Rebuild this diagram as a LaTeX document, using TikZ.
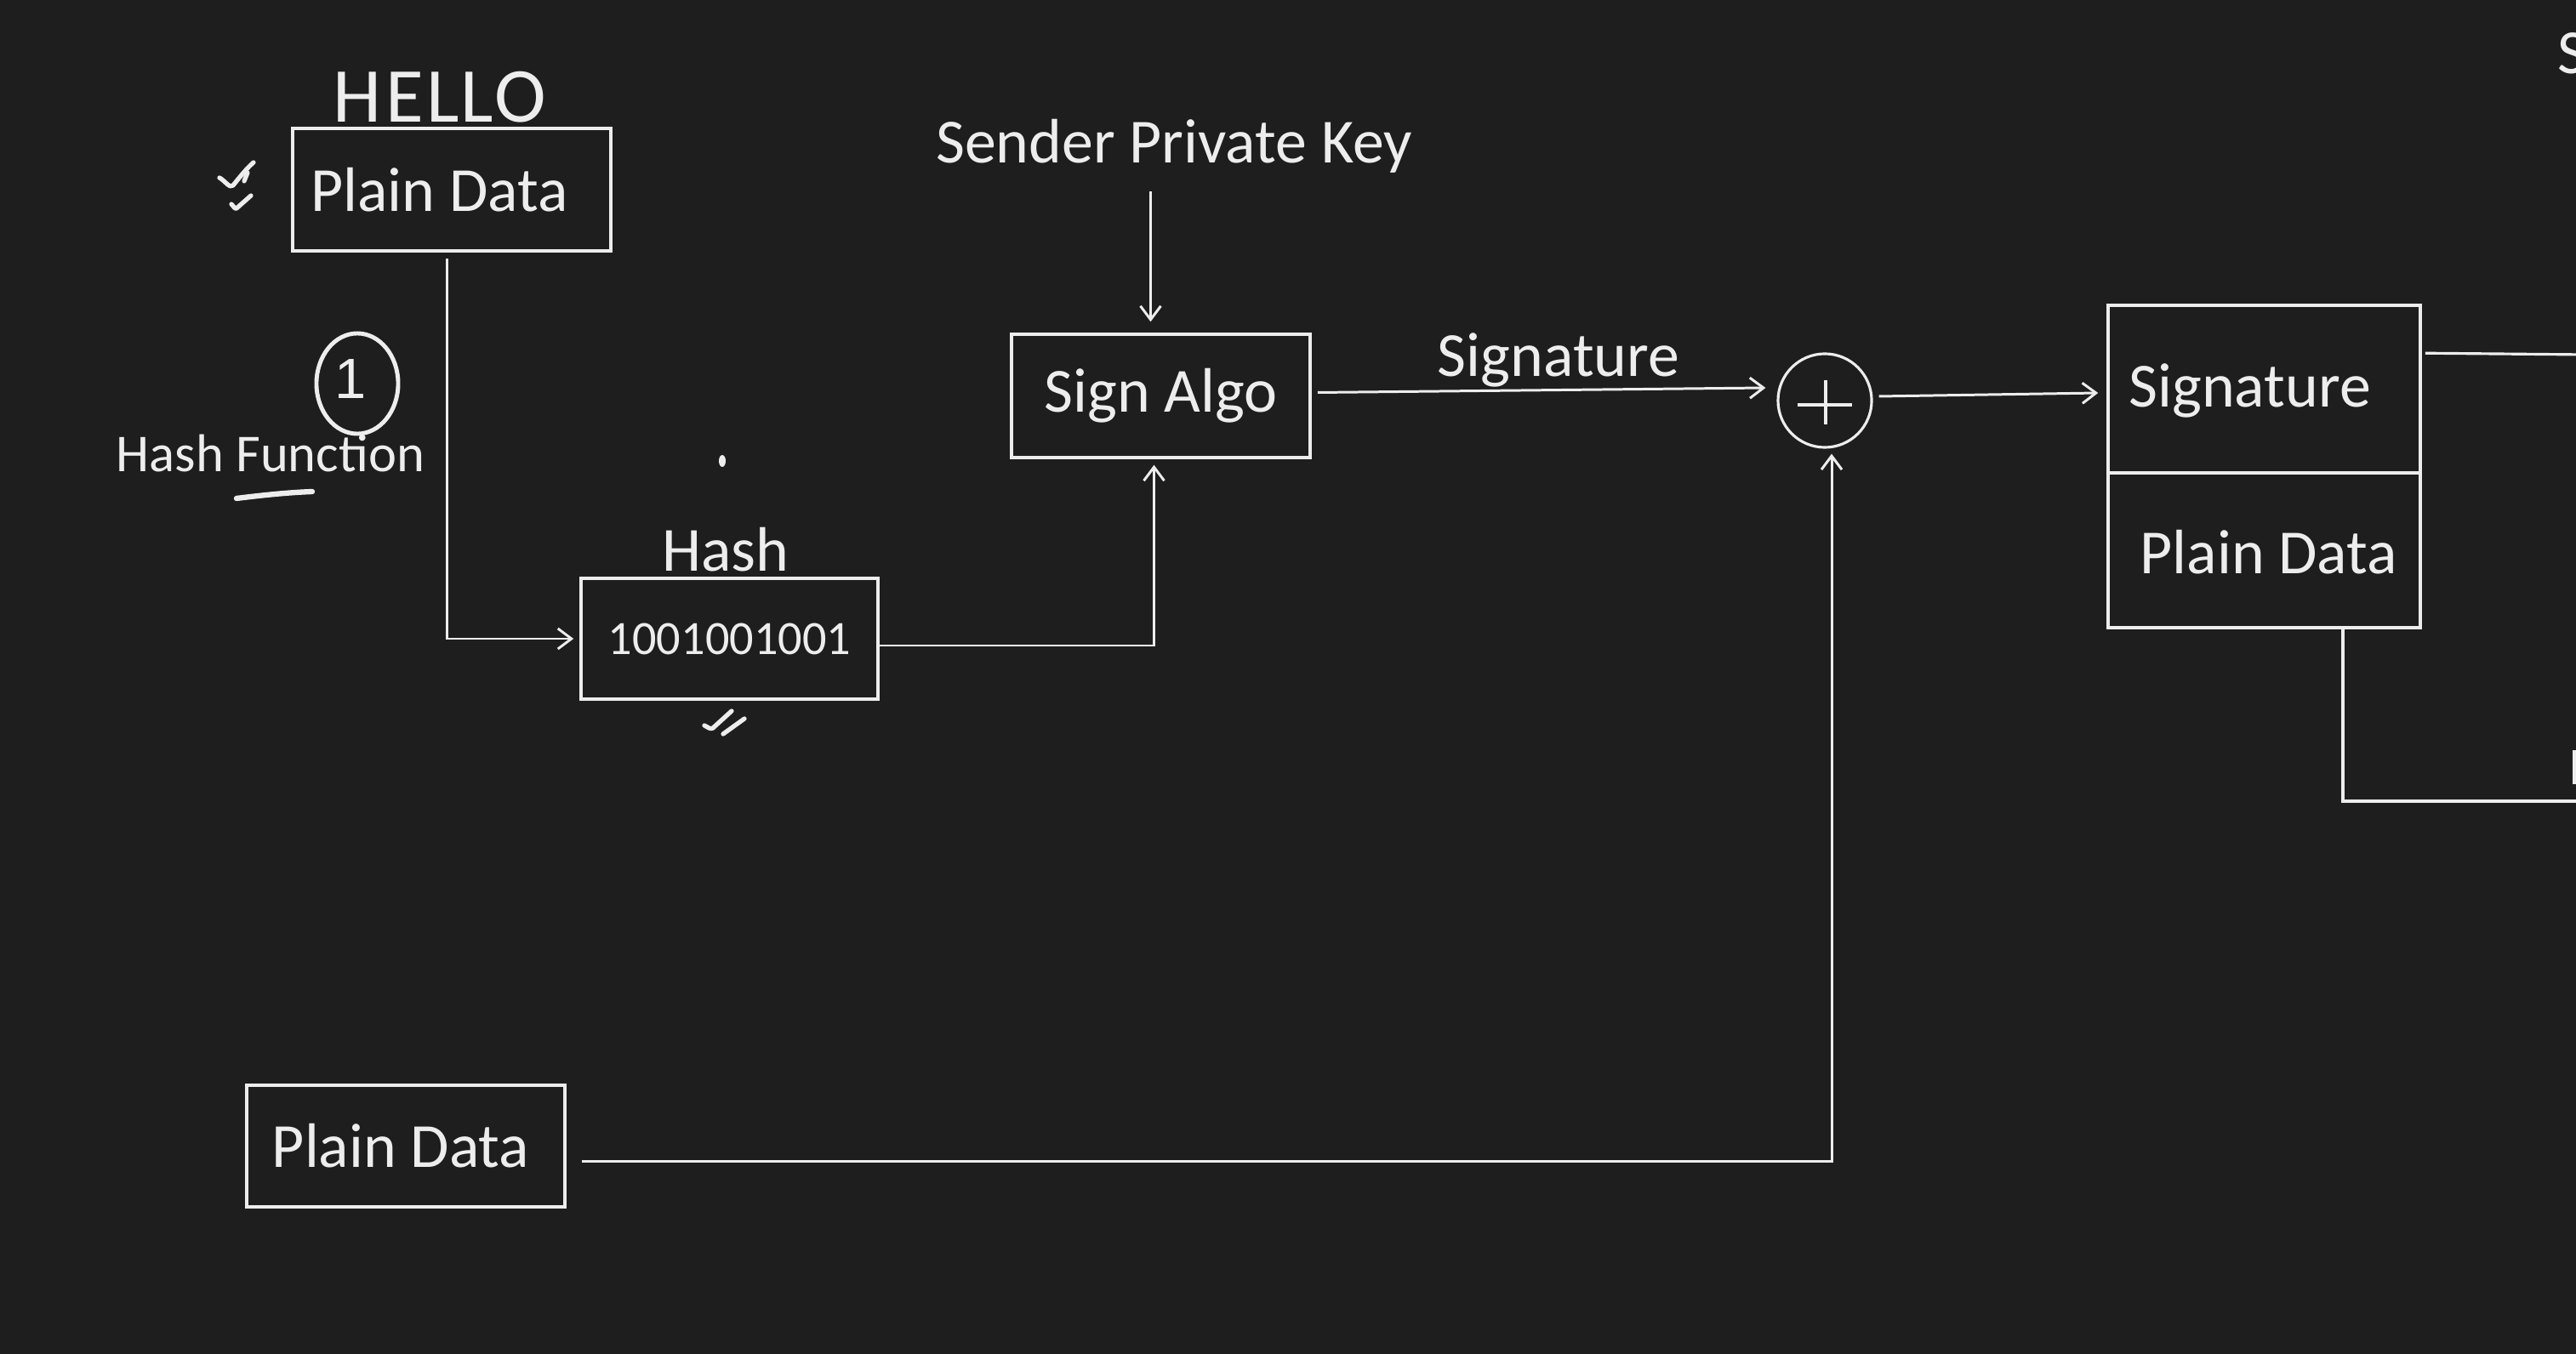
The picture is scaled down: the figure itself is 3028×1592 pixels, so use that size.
\documentclass[tikz,border=0pt]{standalone}
\usepackage{fontspec}
\setmainfont{Carlito}
\newfontfamily\numfont{Liberation Sans}
\usetikzlibrary{arrows.meta,calc,shapes.geometric}
\definecolor{bg}{HTML}{1E1E1E}
\definecolor{fg}{HTML}{EDEDED}
\begin{document}
\begin{tikzpicture}[x=0.01cm,y=-0.01cm,
  color=fg, line width=0.9pt,
  box/.style={draw=fg, line width=0.95pt, inner sep=0pt, font=\fontsize{21}{25}\selectfont},
  lbl/.style={inner sep=0pt, font=\fontsize{21}{25}\selectfont},
  arr/.style={-{Straight Barb[length=0.16cm,width=0.24cm]}, line width=0.85pt},
  hand/.style={line width=1.5pt, line cap=round, line join=round}
]
\fill[bg] (0,0) rectangle (3028,1592);
\useasboundingbox (0,0) rectangle (3028,1592);

% boxes
\node[box, minimum width=3.74cm, minimum height=1.44cm] (pd1) at (531,223) {Plain Data\kern0.29cm};
\node[box, minimum width=3.49cm, minimum height=1.42cm, font=\fontsize{16}{19}\selectfont] (hash) at (857.5,751) {1001001001};
\node[lbl, anchor=base] (hashlbl) at (853,672) {Hash};
\node[box, minimum width=3.51cm, minimum height=1.45cm] (sign) at (1364.5,465.5) {Sign Algo};
\node[lbl, anchor=base] (key) at (1380,192) {Sender Private Key};
\node[lbl, anchor=base] (siglbl) at (1832,443) {Signature};
\node[circle, draw=fg, line width=0.9pt, minimum size=1.1cm, inner sep=0pt] (plus) at (2145,471) {};
\draw ($(plus.center)+(-32,5)$) -- ($(plus.center)+(32,5)$);
\draw ($(plus.center)+(1,-24)$) -- ($(plus.center)+(1,28)$);
\node[box, minimum width=3.67cm, minimum height=3.79cm] (sp) at (2661.5,548.5) {};
\draw (sp.west |- 0,556) -- (sp.east |- 0,556);
\node[lbl, anchor=base west] (sptop) at (2501,479) {Signature};
\node[lbl, anchor=base west] (spbot) at (2514,675) {Plain Data};
\node[box, minimum width=3.74cm, minimum height=1.43cm] (pd2) at (477,1347.5) {Plain Data\kern0.12cm};
\node[lbl, anchor=base west] (sfrag) at (3005,87) {S};

% annotations
\node[font=\fontsize{17.8}{21}\selectfont, inner sep=0pt, anchor=base] (hf) at (318,555) {Hash Function};
\node[ellipse, draw=fg, line width=1.4pt, minimum width=0.96cm, minimum height=1.18cm, inner sep=0pt] (one) at (420,451) {};
\node[font=\numfont\fontsize{19}{22}\selectfont, inner sep=0pt, anchor=base] (onetxt) at (412,469) {1};
\node[font=\fontsize{26}{30}\selectfont, inner sep=0pt, anchor=base] (hello) at (517,144) {H\kern0.05cm E\kern0.03cm L\kern0.02cm L\kern0.02cm O};
\draw[hand] (258,209) .. controls (265,213) and (270,222) .. (274,218) .. controls (282,208) and (290,198) .. (298,191);
\draw[hand] (287,213) -- (291,203);
\draw[hand] (272,240) .. controls (275,243) and (276,246) .. (278,245) -- (295,230);
\draw[hand] (828,853) .. controls (832,855) and (835,858) .. (838,856) -- (860,836);
\draw[hand] (850,863) -- (875,845);
\draw[hand, line width=1.8pt] (278,586) .. controls (310,582) and (340,579) .. (367,578);
\fill (849,542) ellipse (0.04cm and 0.07cm);

% connectors
\coordinate (edgeA) at (3040,417);
\coordinate (edgeB) at (3040,942);
\draw[arr, shorten >=0.07cm] ($(pd1.south)+(-6,7)$) |- (hash.west);
\draw[arr] ($(hash.east)+(0,8)$) -| ($(sign.south)+(-8,7)$);
\draw[arr] ($(sign.north)+(-12,-166)$) -- ($(sign.north)+(-12,-13)$);
\draw[arr] ($(sign.east)+(7,-4)$) -- ($(plus.west)+(-13,-15)$);
\draw[arr] ($(plus.east)+(7,-5)$) -- ($(sp.west)+(-10,-86.5)$);
\draw[arr] ($(pd2.east)+(18,17.5)$) -| ($(plus.south)+(8,6)$);
\draw ($(sp.north east)+(4,58)$) -- (edgeA);
\draw ($(sp.south)+(92.5,0)$) |- (edgeB);
\draw (3026,882) -- (3026,922);
\end{tikzpicture}
\end{document}
